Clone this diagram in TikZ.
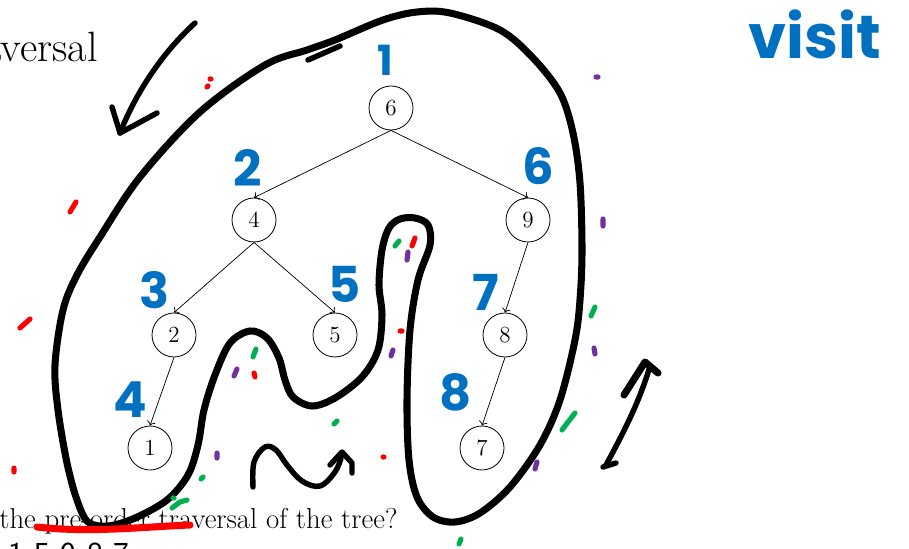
\documentclass[tikz,border=0pt]{standalone}
\usepackage{fontspec}
\newfontfamily\handfont{Poppins}
\usetikzlibrary{arrows.meta}
\definecolor{inkblue}{RGB}{0,112,192}
\definecolor{inkred}{RGB}{255,0,0}
\definecolor{inkgreen}{RGB}{0,176,80}
\definecolor{inkpurple}{RGB}{112,48,160}
\tikzset{
  vert/.style={circle, draw, minimum size=27.5pt, inner sep=0pt,
    font=\Large, line width=0.5pt},
  edge/.style={-To, line width=0.45pt},
  ink/.style={line width=4.4pt, line cap=round, line join=round},
  thinink/.style={line width=3.4pt, line cap=round, line join=round},
  order/.style={text=inkblue, inner sep=0pt,
    font=\handfont\bfseries\fontsize{31}{31}\selectfont},
  speck/.style={line width=3.2pt, line cap=round}
}

\begin{document}
\begin{tikzpicture}[x=0.625pt, y=-0.625pt]
  \useasboundingbox (0,0) rectangle (909,549);

  % texts of the slide
  \node[anchor=base east, inner sep=0pt, font=\fontsize{26.5}{30}\selectfont] (title) at (98,62) {Traversal};
  \node[anchor=base west, inner sep=0pt, font=\fontsize{18}{21}\selectfont] (question) at (-1,528) {the pre-order traversal of the tree?};
  \node[anchor=base west, inner sep=0pt, font=\sffamily\fontsize{21}{23}\selectfont] (answer) at (8,565) {1 5 9 8 7};

  % the tree
  \node[vert] (n6) at (391,108) {6};
  \node[vert] (n4) at (254,220) {4};
  \node[vert] (n9) at (528,220) {9};
  \node[vert] (n2) at (174,335) {2};
  \node[vert] (n5) at (335,335) {5};
  \node[vert] (n8) at (505,335) {8};
  \node[vert] (n1) at (150,448) {1};
  \node[vert] (n7) at (482,448) {7};
  \draw[edge] (n6.south) -- (n4.north);
  \draw[edge] (n6.south) -- (n9.north);
  \draw[edge] (n4.south) -- (n2.north);
  \draw[edge] (n4.south) -- (n5.north);
  \draw[edge] (n2.south) -- (n1.north);
  \draw[edge] (n9.south) -- (n8.north);
  \draw[edge] (n8.south) -- (n7.north);

  % visiting order, by hand
  \node[order, font=\handfont\bfseries\fontsize{26}{26}\selectfont] (o1) at (385,60) {1};
  \node[order] (o2) at (248,168) {2};
  \node[order] (o3) at (155,290) {3};
  \node[order] (o4) at (130,400) {4};
  \node[order] (o5) at (345,284) {5};
  \node[order] (o6) at (538,166) {6};
  \node[order] (o7) at (486,292) {7};
  \node[order] (o8) at (456,392) {8};
  \node[order, font=\handfont\bfseries\fontsize{38}{38}\selectfont] (visit) at (815,34) {visit};

  % the walk round the tree
  \draw[ink] plot[smooth cycle, tension=0.55] coordinates {
    (580,300) (575,340) (560,400) (540,445) (510,487) (480,513) (455,522)
    (433,517) (417,497) (409,460) (407,400) (410,330) (418,280) (430,245)
    (428,225) (415,218) (400,219) (389,228) (382,250) (379,285) (382,315)
    (378,350) (362,377) (335,398) (312,406) (293,397) (285,380) (279,358)
    (267,338) (250,331) (230,343) (215,375) (204,410) (198,445) (188,475)
    (167,500) (135,518) (108,526) (88,522) (77,500) (67,463) (58,410)
    (55,365) (63,310) (77,275) (100,237) (140,177) (200,112) (265,65)
    (307,50) (335,40) (383,20) (417,12) (450,13) (500,30) (533,58)
    (560,93) (573,133) (580,183) (582,250)};
  \draw[thinink] (308,60) -- (340,46);

  % arrows
  \draw[thinink] (195,23) .. controls (160,55) and (135,95) .. (120,133);
  \draw[thinink] (112,107) -- (120,133) -- (157,113);
  \draw[thinink] (603,467) -- (616,463);
  \draw[thinink] (606,465) .. controls (625,430) and (640,400) .. (650,366);
  \draw[ink] (624,395) -- (645,362) -- (658,373);
  \draw[thinink] plot[smooth, tension=0.6] coordinates {
    (253,487) (254,462) (265,447) (276,450) (287,465) (302,481) (320,486)
    (335,472) (341,458)};
  \draw[thinink] (330,465) -- (342,452) -- (352,463) -- (352,473);

  % specks and underline
  \draw[inkred, line width=4.4pt, line cap=round] (37,527) .. controls (90,533) and (140,527) .. (190,525);
  \draw[speck, inkred] (210,79) -- (211,79) (207,87) -- (208,86) (70,212) -- (76,202)
    (20,328) -- (30,319) (14,468) -- (14,472) (254,373) -- (255,377)
    (400,331) -- (402,331) (383,457) -- (384,457) (412,246) -- (415,238);
  \draw[speck, inkgreen] (395,246) -- (399,241) (253,357) -- (256,349)
    (334,424) -- (337,421) (201,479) -- (203,477) (173,498) -- (174,498)
    (172,508) -- (180,502) -- (187,500) (591,316) -- (595,307)
    (562,430) -- (568,422) -- (575,413) (459,544) -- (461,539);
  \draw[speck, inkpurple] (596,77) -- (598,77) (603,219) -- (603,226)
    (408,252) -- (407,260) (237,369) -- (234,376) (393,350) -- (391,356)
    (594,348) -- (595,354) (217,453) -- (217,458) (537,462) -- (535,469);
\end{tikzpicture}
\end{document}
